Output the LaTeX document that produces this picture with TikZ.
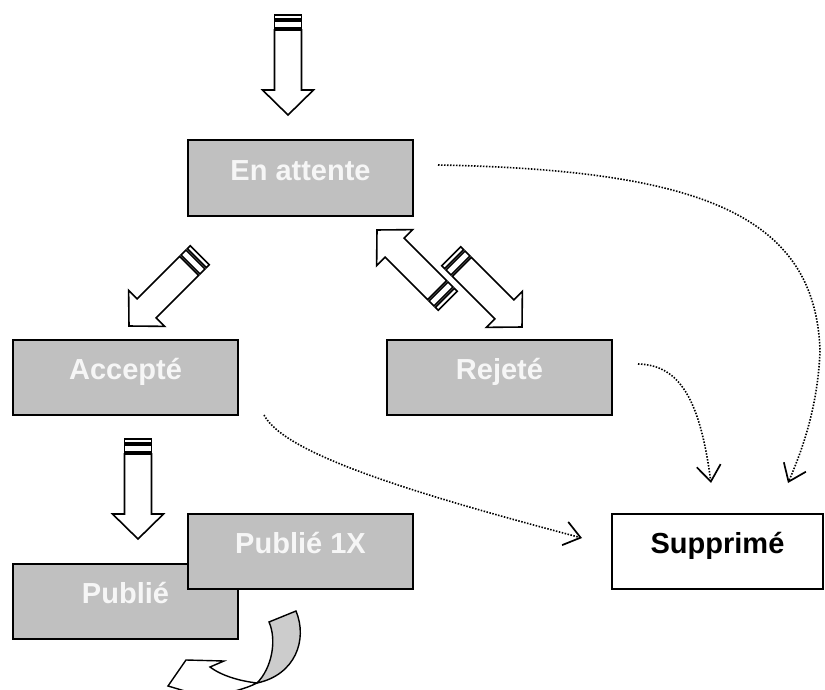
\documentclass[tikz,border=0pt]{standalone}
\usepackage{fontspec}
\setmainfont{Liberation Sans}
\usetikzlibrary{calc,arrows.meta}
\definecolor{boxfill}{HTML}{C0C0C0}
\definecolor{curlfill}{HTML}{CCCCCC}
\definecolor{ink}{HTML}{000000}
\definecolor{label}{HTML}{F6F6F6}

% block arrow with two bands at its tail, pointing along +x, tail at the origin
\tikzset{
  stripearrow/.pic={
    \draw[ink,line width=1.6pt,fill=white] (0,-13.5) rectangle (4,13.5);
    \draw[ink,line width=1.6pt,fill=white] (6,-13.5) rectangle (13,13.5);
    \draw[ink,line width=1.6pt,fill=white,line join=miter]
      (15,-13.5) -- (75,-13.5) -- (75,-25.5) -- (100,0) -- (75,25.5) -- (75,13.5) -- (15,13.5) -- cycle;
  }
}

\begin{document}
\begin{tikzpicture}[x=1pt,y=-1pt,
    state/.style={draw=ink,line width=2pt,fill=boxfill,text=label,
      font=\fontsize{29}{34}\selectfont\bfseries,minimum width=225pt,minimum height=75pt,
      inner sep=0pt,text height=0.72em,text depth=0.3em},
    dotlink/.style={ink,line width=1.6pt,dash pattern=on 1.5pt off 1.5pt,
      -{Straight Barb[length=16pt,width=24pt,line width=1.7pt]}}]
    % y runs down, one unit per pixel of the 825 x 690 frame
    \useasboundingbox (0,0) rectangle (825,690);

    % the states
    \node[state] (wait) at (300.5,178) {En attente};
    \node[state] (accepted) at (125.5,377.5) {Accepté};
    \node[state] (rejected) at (499.5,377.5) {Rejeté};
    \node[state] (published) at (125.5,601.5) {Publié};
    \node[state] (publishedonce) at (300.5,551.5) {Publié 1X};
    \node[state,fill=white,text=ink,minimum width=211pt] (deleted) at (717.5,551.5) {Supprimé};

    % the main moves, as block arrows
    \pic[rotate=-90] at (288,15) {stripearrow};
    \pic[rotate=225] at (199.7,255.3) {stripearrow};
    \pic[rotate=135] at (447.7,300.7) {stripearrow};
    \pic[rotate=-45] at (451.3,256.3) {stripearrow};
    \pic[rotate=-90] at (138,439) {stripearrow};

    % everything can end up deleted
    \draw[dotlink] ($(wait.east)+(24,-13)$) .. controls (700,170) and (815,215) .. (820,350)
      .. controls (818,410) and (800,455) .. ($(deleted.north)+(70.5,-30)$);
    \draw[dotlink] ($(rejected.east)+(25,-13.5)$) .. controls (680,365) and (700,400)
      .. ($(deleted.north)+(-6.5,-30)$);
    \draw[dotlink] ($(accepted.south east)+(25,-1)$) .. controls (285,455) and (420,495)
      .. ($(deleted.west)+(-29,-13.5)$);

    % the curled arrow under the published boxes runs off the bottom edge
    \begin{scope}
      \clip (0,0) rectangle (825,690);
      \draw[ink,line width=1.4pt,fill=white,line join=miter]
        (168,686) -- (205,697) -- (215,694) .. controls (230,693) and (245,689) .. (257,683)
        .. controls (240,681) and (222,676) .. (210,667) -- (224,661) -- (186,660) -- cycle;
      \draw[ink,line width=1.4pt,fill=curlfill,line join=miter]
        (296,611) .. controls (308,640) and (295,675) .. (257,683)
        .. controls (272,668) and (277,640) .. (269,622) -- cycle;
    \end{scope}
  \end{tikzpicture}
\end{document}
